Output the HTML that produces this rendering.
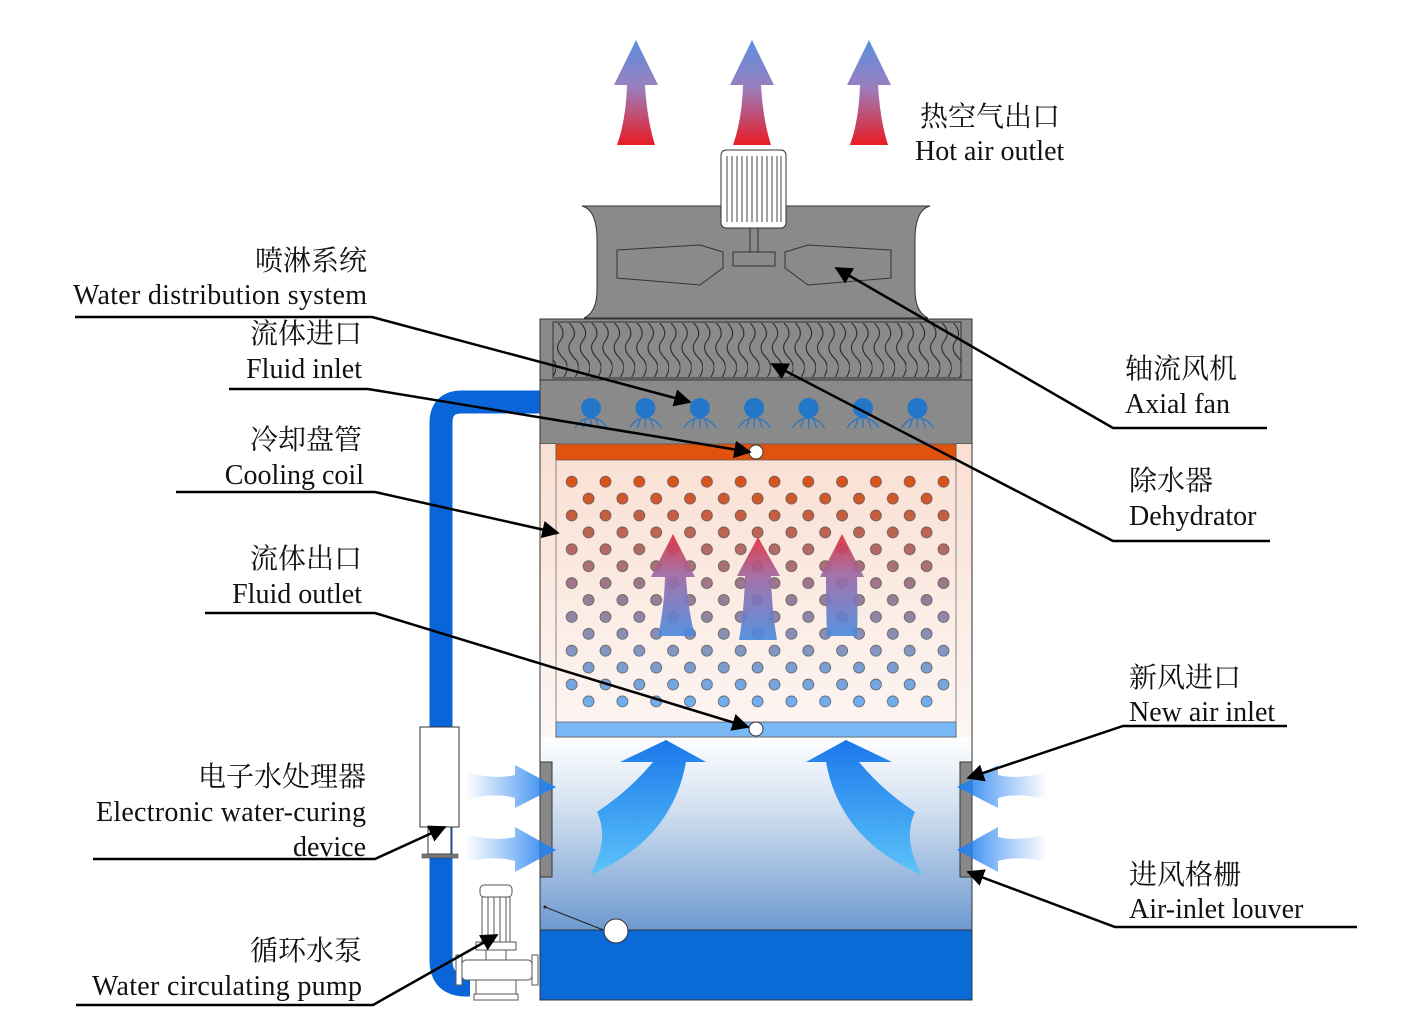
<!DOCTYPE html>
<html><head><meta charset="utf-8"><style>
html,body{margin:0;padding:0;background:#fff}
svg{display:block}
text{font-family:"Liberation Serif","Noto Serif CJK SC","Noto Sans CJK SC",serif;font-size:28px;fill:#111}
</style></head><body>
<svg width="1428" height="1020" viewBox="0 0 1428 1020" xmlns="http://www.w3.org/2000/svg">
<defs>
<linearGradient id="upArr" x1="0" y1="0" x2="0" y2="1"><stop offset="0" stop-color="#5b8fe0"/><stop offset="0.45" stop-color="#9a7fbe"/><stop offset="1" stop-color="#e81c24"/></linearGradient>
<linearGradient id="inArr" x1="0" y1="1" x2="0" y2="0"><stop offset="0" stop-color="#4a8be0"/><stop offset="0.6" stop-color="#9d6aa6"/><stop offset="1" stop-color="#e0303a"/></linearGradient>
<linearGradient id="coilBg" x1="0" y1="0" x2="0" y2="1"><stop offset="0" stop-color="#f9dfd2"/><stop offset="1" stop-color="#fdf6f3"/></linearGradient>
<linearGradient id="lowBg" x1="0" y1="0" x2="0" y2="1"><stop offset="0" stop-color="#ffffff"/><stop offset="0.35" stop-color="#d5e2f1"/><stop offset="1" stop-color="#6e9ad0"/></linearGradient>
<linearGradient id="dotG" gradientUnits="userSpaceOnUse" x1="0" y1="476" x2="0" y2="707"><stop offset="0" stop-color="#de5014"/><stop offset="0.5" stop-color="#9a7a90"/><stop offset="1" stop-color="#6eb0f2"/></linearGradient>
<linearGradient id="sideL" x1="0" y1="0" x2="1" y2="0"><stop offset="0" stop-color="#3d8ef0" stop-opacity="0"/><stop offset="1" stop-color="#1f7ff0"/></linearGradient>
<linearGradient id="sideR" x1="1" y1="0" x2="0" y2="0"><stop offset="0" stop-color="#3d8ef0" stop-opacity="0"/><stop offset="1" stop-color="#1f7ff0"/></linearGradient>
<linearGradient id="curl" x1="0" y1="0" x2="0" y2="1"><stop offset="0" stop-color="#1a78ea"/><stop offset="1" stop-color="#5cc4fa"/></linearGradient>
<pattern id="dotW" patternUnits="userSpaceOnUse" x="561.7" y="473.25" width="33.8" height="33.8">
<circle cx="10" cy="8.45" r="5.5" fill="#fff"/><circle cx="26.9" cy="25.35" r="5.5" fill="#fff"/></pattern>
<pattern id="dotS" patternUnits="userSpaceOnUse" x="561.7" y="473.25" width="33.8" height="33.8">
<circle cx="10" cy="8.45" r="5.5" fill="none" stroke="#555" stroke-width="0.7"/><circle cx="26.9" cy="25.35" r="5.5" fill="none" stroke="#555" stroke-width="0.7"/></pattern>
<mask id="dm"><rect x="561" y="473" width="393" height="238" fill="url(#dotW)"/></mask>
<pattern id="wav" patternUnits="userSpaceOnUse" x="556" y="323" width="11.3" height="60">
<path d="M2,0 q9,9 2,18 q-6,8 3,17 q8,8 1,19" fill="none" stroke="#222" stroke-width="1"/></pattern>
<pattern id="noz" patternUnits="userSpaceOnUse" x="564" y="395" width="54.4" height="40">
<circle cx="27" cy="13" r="10" fill="#2476c8"/>
<path d="M11,33 q6,-10 16,-10 q10,0 16,10 M19,33 l3,-9 M27,33 l0,-9 M35,33 l-3,-9" stroke="#2476c8" fill="none" stroke-width="1.2"/></pattern>
<marker id="ah" viewBox="0 0 10 10" refX="9" refY="5" markerWidth="7" markerHeight="7" orient="auto"><path d="M0,0L10,5L0,10z" fill="#000"/></marker>
</defs>

<!-- top arrows -->
<g fill="url(#upArr)">
<path d="M636,40 L658,85 L645,85 Q647,120 655,145 L617,145 Q626,120 627,85 L614,85Z"/>
<path d="M752,40 L774,85 L761,85 Q763,120 771,145 L733,145 Q742,120 743,85 L730,85Z"/>
<path d="M869,40 L891,85 L878,85 Q880,120 888,145 L850,145 Q859,120 860,85 L847,85Z"/>
</g>

<!-- fan housing -->
<path d="M582,206 L930,206 Q915,210 915,240 L915,290 Q915,312 928,318 L584,318 Q597,312 597,290 L597,240 Q597,210 582,206Z" fill="#8a8a8a" stroke="#333" stroke-width="1"/>
<path d="M617,250 L700,245 L723,252 L723,268 L700,285 L617,278 Z" fill="#8a8a8a" stroke="#333"/>
<path d="M891,250 L808,245 L785,252 L785,268 L808,285 L891,278 Z" fill="#8a8a8a" stroke="#333"/>
<rect x="733" y="252" width="42" height="14" fill="#8a8a8a" stroke="#333"/>
<rect x="750" y="228" width="8" height="24" fill="#8a8a8a" stroke="#333"/>
<rect x="721" y="150" width="65" height="78" rx="5" fill="#fff" stroke="#333"/>
<g stroke="#444" stroke-width="1">
<line x1="727" y1="156" x2="727" y2="222"/><line x1="732" y1="156" x2="732" y2="222"/><line x1="737" y1="156" x2="737" y2="222"/><line x1="742" y1="156" x2="742" y2="222"/><line x1="747" y1="156" x2="747" y2="222"/><line x1="752" y1="156" x2="752" y2="222"/><line x1="757" y1="156" x2="757" y2="222"/><line x1="762" y1="156" x2="762" y2="222"/><line x1="767" y1="156" x2="767" y2="222"/><line x1="772" y1="156" x2="772" y2="222"/><line x1="777" y1="156" x2="777" y2="222"/><line x1="781" y1="156" x2="781" y2="222"/>
</g>

<!-- pipe -->
<path d="M540,402 L462,402 Q441,402 441,423 L441,960 Q441,985 466,985 L470,985" fill="none" stroke="#0a66d8" stroke-width="23"/>
<rect x="420" y="727" width="39" height="100" fill="#fff" stroke="#333"/>
<rect x="428" y="827" width="23" height="27" fill="#fff" stroke="#333"/>
<rect x="422" y="854" width="36" height="4" fill="#777" stroke="#333" stroke-width="0.5"/>

<!-- main tower -->
<rect x="540" y="319" width="432" height="125" fill="#8a8a8a" stroke="#333"/>
<rect x="553" y="322" width="408" height="56" fill="url(#wav)" stroke="#333"/>
<line x1="540" y1="380" x2="972" y2="380" stroke="#333"/>
<rect x="564" y="395" width="381" height="40" fill="url(#noz)"/>
<!-- lower -->
<rect x="540" y="737" width="432" height="193" fill="url(#lowBg)"/>
<rect x="540" y="444" width="432" height="293" fill="url(#coilBg)"/>
<rect x="540" y="930" width="432" height="70" fill="#0a6ad8" stroke="#333"/>
<rect x="540" y="319" width="432" height="681" fill="none" stroke="#333"/>
<rect x="556" y="444" width="400" height="293" fill="url(#coilBg)" stroke="#888"/>
<rect x="556" y="444" width="400" height="16" fill="#e0520e" stroke="#555" stroke-width="0.7"/>
<rect x="556" y="722" width="400" height="15" fill="#7ab8f5" stroke="#555" stroke-width="0.7"/>
<rect x="561" y="473" width="393" height="238" fill="url(#dotG)" mask="url(#dm)"/>
<rect x="561" y="473" width="393" height="238" fill="url(#dotS)"/>

<!-- coil arrows -->
<g fill="url(#inArr)" opacity="0.92">
<path d="M673,534 L695,577 L686,577 Q688,610 695,636 L658,636 Q664,610 665,577 L651,577Z"/>
<path d="M758,537 L780,576 L771,576 Q772,612 777,640 L739,640 Q744,612 745,576 L737,576Z"/>
<path d="M842,534 L864,577 L857,577 Q858,610 857,636 L827,636 Q826,610 826,577 L820,577Z"/>
</g>

<!-- louvers -->
<rect x="540" y="762" width="12" height="115" fill="#888" stroke="#333"/>
<rect x="960" y="762" width="12" height="115" fill="#888" stroke="#333"/>
<g>
<path d="M465,772 Q495,780 515,775 L515,765 L556,787 L515,808 L515,798 Q495,792 465,800Z" fill="url(#sideL)"/>
<path d="M465,834 Q495,842 515,837 L515,827 L556,850 L515,872 L515,861 Q495,855 465,862Z" fill="url(#sideL)"/>
<path d="M1048,772 Q1018,780 998,775 L998,765 L957,787 L998,808 L998,798 Q1018,792 1048,800Z" fill="url(#sideR)"/>
<path d="M1048,834 Q1018,842 998,837 L998,827 L957,850 L998,872 L998,861 Q1018,855 1048,862Z" fill="url(#sideR)"/>
</g>
<path d="M666,740 L706,762 L686,762 Q672,840 590,875 Q610,840 597,812 Q630,790 653,762 L620,762Z" fill="url(#curl)"/>
<path d="M846,740 L806,762 L826,762 Q840,840 922,875 Q902,840 915,812 Q882,790 859,762 L892,762Z" fill="url(#curl)"/>

<!-- float -->
<line x1="545" y1="907" x2="606" y2="931" stroke="#222"/>
<circle cx="545" cy="907" r="1.5" fill="#222"/>
<circle cx="616" cy="931" r="12" fill="#fff" stroke="#333"/>
<circle cx="756" cy="452" r="7" fill="#fff" stroke="#333"/>
<circle cx="756" cy="729" r="7" fill="#fff" stroke="#333"/>

<!-- pump -->
<g fill="#fff" stroke="#555" stroke-width="1">
<rect x="480" y="885" width="32" height="12" rx="4"/>
<rect x="482" y="897" width="28" height="45"/>
<line x1="488" y1="897" x2="488" y2="942"/><line x1="494" y1="897" x2="494" y2="942"/><line x1="500" y1="897" x2="500" y2="942"/><line x1="506" y1="897" x2="506" y2="942"/>
<rect x="476" y="942" width="40" height="8"/>
<rect x="486" y="950" width="20" height="12"/>
<rect x="462" y="960" width="70" height="20" rx="4"/>
<rect x="456" y="955" width="6" height="30"/>
<rect x="532" y="955" width="6" height="30"/>
<rect x="476" y="980" width="40" height="14"/>
<rect x="474" y="994" width="44" height="6"/>
</g>

<!-- leader lines -->
<g stroke="#000" stroke-width="2.5" fill="none">
<polyline points="75,317 372,317 690,402" marker-end="url(#ah)"/>
<polyline points="229,389 368,389 750,452" marker-end="url(#ah)"/>
<polyline points="176,492 375,492 558,533" marker-end="url(#ah)"/>
<polyline points="205,613 375,613 748,727" marker-end="url(#ah)"/>
<polyline points="93,859 375,859 445,827" marker-end="url(#ah)"/>
<polyline points="76,1005 373,1005 497,935" marker-end="url(#ah)"/>
<polyline points="1267,428 1113,428 836,268" marker-end="url(#ah)"/>
<polyline points="1270,541 1113,541 772,364" marker-end="url(#ah)"/>
<polyline points="1287,726 1123,726 968,778" marker-end="url(#ah)"/>
<polyline points="1357,927 1115,927 968,872" marker-end="url(#ah)"/>
</g>

<!-- labels -->
<g text-anchor="end">
<text x="367" y="270">喷淋系统</text>
<text x="367" y="304" textLength="294" lengthAdjust="spacing">Water distribution system</text>
<text x="362" y="343">流体进口</text>
<text x="362" y="378">Fluid inlet</text>
<text x="362" y="449">冷却盘管</text>
<text x="364" y="484">Cooling coil</text>
<text x="362" y="568">流体出口</text>
<text x="362" y="603">Fluid outlet</text>
<text x="366" y="786">电子水处理器</text>
<text x="366" y="821" textLength="270" lengthAdjust="spacing">Electronic water-curing</text>
<text x="366" y="856">device</text>
<text x="362" y="960">循环水泵</text>
<text x="362" y="995" textLength="270" lengthAdjust="spacing">Water circulating pump</text>
</g>
<text x="920" y="126">热空气出口</text>
<text x="915" y="160">Hot air outlet</text>
<text x="1125" y="378">轴流风机</text>
<text x="1125" y="413">Axial fan</text>
<text x="1129" y="490">除水器</text>
<text x="1129" y="525">Dehydrator</text>
<text x="1129" y="687">新风进口</text>
<text x="1129" y="721">New air inlet</text>
<text x="1129" y="884">进风格栅</text>
<text x="1129" y="918">Air-inlet louver</text>
</svg>
</body></html>
